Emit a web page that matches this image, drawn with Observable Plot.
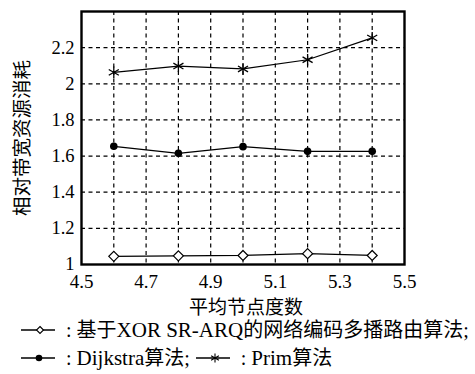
<!DOCTYPE html>
<html><head><meta charset="utf-8">
<script src="https://cdn.jsdelivr.net/npm/d3@7"></script>
<script src="https://cdn.jsdelivr.net/npm/@observablehq/plot@0.6"></script>
<style>
body{margin:0;background:#fff;width:475px;height:374px;overflow:hidden;font-family:"Liberation Serif","Noto Sans CJK SC",serif;}
#chart{position:absolute;left:0;top:0;}
#chart svg, #chart text{font-family:"Liberation Serif","Noto Sans CJK SC",serif !important;}
.leg{position:absolute;font-size:20px;line-height:24px;height:24px;white-space:nowrap;color:#000;display:flex;align-items:center;}
.leg svg{display:block;}
.lat{font-size:21px;}
</style></head>
<body>
<div id="chart"></div>
<div class="leg" id="leg1" style="left:20px;top:318px;"></div>
<div class="leg" id="leg2" style="left:20px;top:346px;"></div>
<script>
const xValues = [4.6, 4.8, 5.0, 5.2, 5.4];
const xorSeries = [1.045, 1.048, 1.05, 1.06, 1.05];
const dijkstraSeries = [1.654, 1.615, 1.652, 1.626, 1.626];
const primSeries = [2.063, 2.098, 2.082, 2.133, 2.254];
const xTicks = [4.5, 4.7, 4.9, 5.1, 5.3, 5.5];
const xGrid = [4.6, 4.7, 4.8, 4.9, 5.0, 5.1, 5.2, 5.3, 5.4];
const yTicks = [1, 1.2, 1.4, 1.6, 1.8, 2, 2.2];
const yGrid = [1.2, 1.4, 1.6, 1.8, 2, 2.2];
const xLabel = "平均节点度数";
const yLabel = "相对带宽资源消耗";
const seriesNames = ["基于XOR SR-ARQ的网络编码多播路由算法", "Dijkstra算法", "Prim算法"];

const toRows = (vals) => xValues.map((x, i) => ({x, y: vals[i]}));
const xorRows = toRows(xorSeries), dijRows = toRows(dijkstraSeries), primRows = toRows(primSeries);

const chart = Plot.plot({
  width: 475, height: 318,
  marginLeft: 81, marginRight: 71, marginTop: 11, marginBottom: 54,
  style: {fontSize: "19px", color: "#000", background: "#fff"},
  x: {domain: [4.5, 5.5]},
  y: {domain: [1, 2.4]},
  marks: [
    Plot.gridX(xGrid, {stroke: "#000", strokeOpacity: 1, strokeWidth: 1.2, strokeDasharray: "4,3.5"}),
    Plot.gridY(yGrid, {stroke: "#000", strokeOpacity: 1, strokeWidth: 1.2, strokeDasharray: "4,3.5"}),
    Plot.axisX(xTicks, {tickSize: 0, tickPadding: 10, tickFormat: d => d.toFixed(1), label: null, fontSize: 19}),
    Plot.axisY(yTicks, {tickSize: 0, tickPadding: 7, tickFormat: d => String(d), label: null, fontSize: 18.5}),
    Plot.line(xorRows, {x: "x", y: "y", stroke: "#000", strokeWidth: 1.2}),
    Plot.line(dijRows, {x: "x", y: "y", stroke: "#000", strokeWidth: 1.2}),
    Plot.line(primRows, {x: "x", y: "y", stroke: "#000", strokeWidth: 1.2}),
    Plot.dot(xorRows, {x: "x", y: "y", symbol: "diamond2", r: 4.5, stroke: "#000", fill: "#fff", strokeWidth: 1.2}),
    Plot.dot(dijRows, {x: "x", y: "y", symbol: "circle", r: 3.8, fill: "#000", stroke: "none"}),
    Plot.dot(primRows, {x: "x", y: "y", symbol: "asterisk", r: 5.5, stroke: "#000", strokeWidth: 1.3}),
    Plot.frame({stroke: "#000", strokeWidth: 2.4}),
    Plot.text([xLabel], {frameAnchor: "bottom", lineAnchor: "middle", textAnchor: "middle", dx: 3, dy: 43, fontSize: 19, fill: "#000"}),
    Plot.text([yLabel], {frameAnchor: "left", lineAnchor: "middle", textAnchor: "middle", dx: -59, rotate: -90, fontSize: 19.5, fill: "#000"})
  ]
});
document.getElementById("chart").appendChild(chart);

function glyph(kind){
  let m = "";
  if (kind === "diamond") m = '<path d="M20,5.5 L23.5,9 L20,12.5 L16.5,9 Z" fill="#fff" stroke="#000" stroke-width="1.1"/>';
  if (kind === "dot") m = '<circle cx="19" cy="9" r="3.3" fill="#000"/>';
  if (kind === "star") m = '<g stroke="#000" stroke-width="1.1"><line x1="20" y1="4.5" x2="20" y2="13.5"/><line x1="16.1" y1="6.75" x2="23.9" y2="11.25"/><line x1="16.1" y1="11.25" x2="23.9" y2="6.75"/></g>';
  return '<svg width="36" height="18"><line x1="1" y1="9" x2="35" y2="9" stroke="#000" stroke-width="1.4"/>' + m + '</svg>';
}
function styled(name){
  return name.replace(/([A-Za-z][A-Za-z \-]*[A-Za-z])/g, '<span class="lat">$1</span>');
}
document.getElementById("leg1").innerHTML = glyph("diamond") + '<span>&nbsp;&nbsp;:&nbsp;' + styled(seriesNames[0]) + ';</span>';
document.getElementById("leg2").innerHTML = glyph("dot") + '<span>&nbsp;&nbsp;:&nbsp;' + styled(seriesNames[1]) + ';&nbsp;</span>' + glyph("star") + '<span>&nbsp;&nbsp;:&nbsp;' + styled(seriesNames[2]) + '</span>';
</script>
</body></html>
